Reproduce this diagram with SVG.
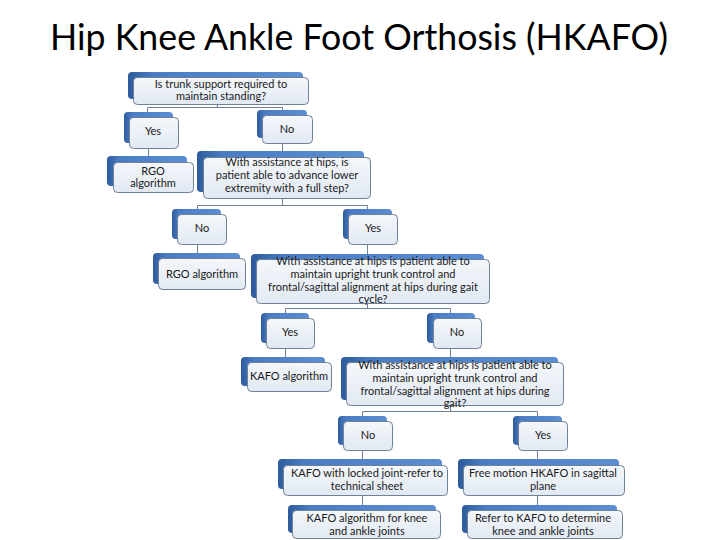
<svg xmlns="http://www.w3.org/2000/svg" width="720" height="540" viewBox="0 0 720 540">
<defs>
<linearGradient id="bk" x1="0" y1="0" x2="1" y2="0">
<stop offset="0" stop-color="#2d5b9c"/>
<stop offset="0.15" stop-color="#4a7cc4"/>
<stop offset="1" stop-color="#5b8ed3"/>
</linearGradient>
<linearGradient id="fr" x1="0" y1="0" x2="0" y2="1">
<stop offset="0" stop-color="#f4f7fb"/>
<stop offset="1" stop-color="#e2e9f3"/>
</linearGradient>
<style>
.bk{fill:url(#bk);}
.fr{fill:url(#fr);stroke:#6f8196;stroke-width:1;}
.t{font-family:Lato,"Liberation Sans",Arial,sans-serif;font-size:11px;fill:#1a1a1a;text-anchor:middle;}
.c{fill:none;stroke:#6f8196;stroke-width:1;}
.title{font-family:Lato,"Liberation Sans",Arial,sans-serif;font-size:37px;fill:#000;}
</style>
</defs>
<rect width="720" height="540" fill="#fff"/>
<text class="title" x="50" y="50" textLength="618" lengthAdjust="spacingAndGlyphs">Hip Knee Ankle Foot Orthosis (HKAFO)</text>
<g id="connectors">
<path class="c" d="M217.5 104V107.5M147.5 107.5H282.5M147.5 107.5V112M282.5 107.5V112"/>
<path class="c" d="M148.5 148V157M282.5 143V152"/>
<path class="c" d="M282.5 198V205.5M197.5 205.5H367.5M197.5 205.5V209M367.5 205.5V209"/>
<path class="c" d="M197.5 244V253M367.5 244V254"/>
<path class="c" d="M367.5 303V308.5M285.5 308.5H450.5M285.5 308.5V313M450.5 308.5V313"/>
<path class="c" d="M285.5 348V357M450.5 348V357"/>
<path class="c" d="M450.5 405V411.5M362.5 411.5H537.5M362.5 411.5V416M537.5 411.5V416"/>
<path class="c" d="M362.5 450V459M537.5 450V459M362.5 495V505M537.5 495V505"/>
</g>
<g id="q1"><rect class="bk" x="128" y="72" width="175" height="27" rx="4"/><rect class="fr" x="133.5" y="77.5" width="175" height="27" rx="4"/><text class="t" x="221" y="88">Is trunk support required to</text><text class="t" x="221" y="100">maintain standing?</text></g>
<g id="yes1"><rect class="bk" x="124" y="112" width="49" height="31" rx="4"/><rect class="fr" x="129.5" y="117.5" width="49" height="31" rx="4"/><text class="t" x="153" y="135">Yes</text></g>
<g id="no1"><rect class="bk" x="257" y="110" width="50" height="28" rx="4"/><rect class="fr" x="262.5" y="115.5" width="50" height="28" rx="4"/><text class="t" x="287" y="133">No</text></g>
<g id="rgo1"><rect class="bk" x="107" y="156" width="80" height="30" rx="4"/><rect class="fr" x="113.5" y="162.5" width="80" height="30" rx="4"/><text class="t" x="153" y="175">RGO</text><text class="t" x="153" y="187">algorithm</text></g>
<g id="q2"><rect class="bk" x="197" y="151" width="167" height="41" rx="4"/><rect class="fr" x="203.5" y="157.5" width="167" height="41" rx="4"/><text class="t" x="287" y="166">With assistance at hips, is</text><text class="t" x="287" y="179">patient able to advance lower</text><text class="t" x="287" y="192">extremity with a full step?</text></g>
<g id="no2"><rect class="bk" x="172" y="209" width="49" height="30" rx="4"/><rect class="fr" x="177.5" y="214.5" width="49" height="30" rx="4"/><text class="t" x="202" y="232">No</text></g>
<g id="yes2"><rect class="bk" x="343" y="209" width="49" height="30" rx="4"/><rect class="fr" x="348.5" y="214.5" width="49" height="30" rx="4"/><text class="t" x="373" y="232">Yes</text></g>
<g id="rgo2"><rect class="bk" x="153" y="253" width="87" height="31" rx="4"/><rect class="fr" x="158.5" y="258.5" width="87" height="31" rx="4"/><text class="t" x="202" y="278">RGO algorithm</text></g>
<g id="q3"><rect class="bk" x="251" y="254" width="233" height="44" rx="4"/><rect class="fr" x="256.5" y="259.5" width="233" height="44" rx="4"/><text class="t" x="373" y="265">With assistance at hips is patient able to</text><text class="t" x="373" y="278">maintain upright trunk control and</text><text class="t" x="373" y="291">frontal/sagittal alignment at hips during gait</text><text class="t" x="373" y="303">cycle?</text></g>
<g id="yes3"><rect class="bk" x="261" y="313" width="48" height="30" rx="4"/><rect class="fr" x="266.5" y="318.5" width="48" height="30" rx="4"/><text class="t" x="290" y="336">Yes</text></g>
<g id="no3"><rect class="bk" x="427" y="313" width="48" height="30" rx="4"/><rect class="fr" x="433.5" y="318.5" width="48" height="30" rx="4"/><text class="t" x="457" y="336">No</text></g>
<g id="kafo1"><rect class="bk" x="241" y="357" width="84" height="29" rx="4"/><rect class="fr" x="247.5" y="362.5" width="84" height="29" rx="4"/><text class="t" x="289" y="380">KAFO algorithm</text></g>
<g id="q4"><rect class="bk" x="341" y="357" width="217" height="43" rx="4"/><rect class="fr" x="346.5" y="362.5" width="217" height="43" rx="4"/><text class="t" x="455" y="369">With assistance at hips is patient able to</text><text class="t" x="455" y="382">maintain upright trunk control and</text><text class="t" x="455" y="395">frontal/sagittal alignment at hips during</text><text class="t" x="455" y="407">gait?</text></g>
<g id="no4"><rect class="bk" x="338" y="416" width="49" height="29" rx="4"/><rect class="fr" x="343.5" y="421.5" width="49" height="29" rx="4"/><text class="t" x="368" y="439">No</text></g>
<g id="yes4"><rect class="bk" x="513" y="416" width="49" height="29" rx="4"/><rect class="fr" x="518.5" y="421.5" width="49" height="29" rx="4"/><text class="t" x="543" y="439">Yes</text></g>
<g id="kafo2"><rect class="bk" x="278" y="459" width="164" height="30" rx="4"/><rect class="fr" x="283.5" y="465.5" width="164" height="30" rx="4"/><text class="t" x="367" y="477">KAFO with locked joint-refer to</text><text class="t" x="367" y="490">technical sheet</text></g>
<g id="free"><rect class="bk" x="458" y="459" width="161" height="30" rx="4"/><rect class="fr" x="463.5" y="465.5" width="161" height="30" rx="4"/><text class="t" x="543" y="477">Free motion HKAFO in sagittal</text><text class="t" x="543" y="490">plane</text></g>
<g id="kafo3"><rect class="bk" x="288" y="505" width="148" height="28" rx="4"/><rect class="fr" x="292.5" y="510.5" width="148" height="28" rx="4"/><text class="t" x="367" y="522">KAFO algorithm for knee</text><text class="t" x="367" y="535">and ankle joints</text></g>
<g id="refer"><rect class="bk" x="462" y="505" width="155" height="28" rx="4"/><rect class="fr" x="467.5" y="510.5" width="155" height="28" rx="4"/><text class="t" x="543" y="522">Refer to KAFO to determine</text><text class="t" x="543" y="535">knee and ankle joints</text></g>
</svg>
